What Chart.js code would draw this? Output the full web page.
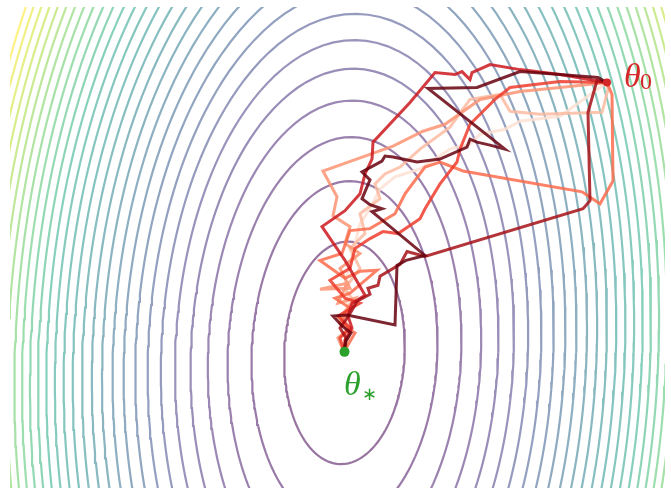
<!DOCTYPE html>
<html>
<head>
<meta charset="utf-8">
<script src="https://cdn.jsdelivr.net/npm/chart.js@4.4.0/dist/chart.umd.min.js"></script>
<style>
  html, body { margin: 0; padding: 0; background: #fff; }
  #wrap { width: 671px; height: 493px; }
</style>
</head>
<body>
<div id="wrap"><canvas id="chart"></canvas></div>
<script>
// loss surface (image units): loss = lossMin + lossScale * q(dx, dy)
const lossCenter = [344.5, 355];
const lossQuad = [2.759e-4, 8.62e-6, 7.999e-5];   // a, b, c of q
const lossMin = 0.275;
const lossScale = 0.725;
const levels = [1, 2, 3, 4, 5, 6, 7, 8, 9, 10, 11, 12, 13, 14, 15,
                16, 17, 18, 19, 20, 21, 22, 23, 24, 25, 26, 27, 28, 29];

const thetaStart = [607, 83];
const thetaOpt = [344.5, 354];

// SGD runs, lightest to darkest
const runColors = ["#fee0d2", "#fcbba1", "#fc9272", "#fb6a4a", "#ef3b2c", "#cb181d", "#a50f15", "#67000d"];

const run1 = [[607,83],[560,117],[520,122],[505,130],[480,135],[470,145],[450,150],[420,170],[395,178],[380,190],[370,210],[360,225],[355,245],[350,265],[345,285],[348,310],[344,354]];
const run2 = [[607,83],[608,90],[602,113],[540,115],[510,112],[500,95],[470,100],[450,128],[420,150],[400,168],[385,175],[375,185],[380,200],[360,215],[365,235],[350,250],[360,270],[345,290],[355,305],[338,320],[350,335],[344,354]];
const run3 = [[607,83],[560,88],[520,92],[480,100],[445,125],[423,132],[393,147],[323,172],[337,198],[333,217],[350,228],[345,245],[360,255],[340,270],[350,290],[320,291],[347,285],[338,305],[355,300],[340,320],[350,330],[338,340],[344,354]];
const run4 = [[607,83],[612,95],[613,182],[600,205],[585,195],[582,193],[463,172],[440,163],[425,168],[405,195],[395,215],[370,230],[350,232],[342,255],[320,262],[345,280],[360,273],[377,272],[350,295],[335,300],[350,310],[340,325],[355,335],[344,354]];
const run5 = [[607,83],[560,82],[510,88],[495,100],[470,125],[460,150],[457,163],[440,185],[425,210],[420,220],[398,235],[383,233],[370,240],[355,250],[350,270],[330,282],[345,300],[360,305],[338,318],[350,330],[340,340],[344,354]];
const run6 = [[607,83],[560,75],[520,70],[490,65],[472,73],[470,80],[462,72],[455,75],[435,73],[410,103],[373,143],[372,160],[365,175],[360,195],[345,212],[322,228],[345,262],[365,297],[352,305],[348,318],[352,330],[345,342],[344,354]];
const run7 = [[607,83],[597,81],[588,113],[590,202],[583,210],[425,258],[418,256],[407,253],[400,266],[380,278],[378,287],[368,290],[370,296],[357,303],[352,312],[347,320],[340,330],[346,340],[344,354]];
const run8 = [[607,83],[598,78],[560,75],[520,72],[477,88],[428,89],[505,150],[490,146],[477,143],[470,140],[467,148],[440,160],[417,163],[393,158],[385,157],[382,162],[362,173],[370,181],[362,200],[370,206],[382,210],[372,213],[425,257],[406,262],[397,267],[395,327],[347,317],[333,318],[342,328],[351,335],[346,343],[344,354]];
const runs = [run1, run2, run3, run4, run5, run6, run7, run8];

const viridis = [[68,1,84],[72,36,117],[65,68,135],[53,95,141],[42,120,142],[33,145,140],
                 [34,168,132],[68,191,112],[122,209,81],[189,223,38],[253,231,37]];

function viridisColor(t, alpha) {
  const s = Math.min(Math.max(t, 0), 1) * (viridis.length - 1);
  const i = Math.min(Math.floor(s), viridis.length - 2);
  const f = s - i;
  const c = viridis[i].map((v, k) => Math.round(v + (viridis[i + 1][k] - v) * f));
  return `rgba(${c[0]},${c[1]},${c[2]},${alpha})`;
}

// level set of the quadratic loss, traced around the centre
function contourPoints(level) {
  const q = (level - lossMin) / lossScale;
  const [a, b, c] = lossQuad;
  const pts = [];
  for (let i = 0; i <= 180; i++) {
    const ang = (i / 180) * 2 * Math.PI;
    const cs = Math.cos(ang), sn = Math.sin(ang);
    const r = Math.sqrt(q / (a * cs * cs + 2 * b * cs * sn + c * sn * sn));
    pts.push({ x: lossCenter[0] + r * cs, y: lossCenter[1] + r * sn });
  }
  return pts;
}

const datasets = [];

datasets.push({
  data: [{ x: thetaOpt[0], y: thetaOpt[1] }],
  pointRadius: 5, pointBackgroundColor: "#2ca02c", pointBorderWidth: 0,
  showLine: false, order: 0
});
datasets.push({
  data: [{ x: thetaStart[0], y: thetaStart[1] }],
  pointRadius: 4, pointBackgroundColor: "#d62728", pointBorderWidth: 0,
  showLine: false, order: 0
});

runs.forEach((run, i) => {
  datasets.push({
    data: run.map(p => ({ x: p[0], y: p[1] })),
    showLine: true, pointRadius: 0, borderWidth: 3,
    borderColor: runColors[i] + "d8", borderJoinStyle: "miter",
    order: 1 + runs.length - i
  });
});

levels.forEach((lv, k) => {
  datasets.push({
    data: contourPoints(lv),
    showLine: true, pointRadius: 0, borderWidth: 2.2,
    borderColor: viridisColor((lv - levels[0]) / (levels[levels.length - 1] - levels[0]), 0.55),
    order: 20
  });
});

const thetaLabels = {
  id: "thetaLabels",
  afterDatasetsDraw(chart) {
    const { ctx, scales: { x, y } } = chart;
    ctx.save();
    ctx.textBaseline = "alphabetic";
    ctx.fillStyle = "#d62728";
    ctx.font = "italic 34px 'Liberation Serif'";
    ctx.fillText("θ", x.getPixelForValue(624), y.getPixelForValue(87));
    ctx.font = "24px 'Liberation Serif'";
    ctx.fillText("0", x.getPixelForValue(640), y.getPixelForValue(90));
    ctx.fillStyle = "#2ca02c";
    ctx.font = "italic 34px 'Liberation Serif'";
    ctx.fillText("θ", x.getPixelForValue(344), y.getPixelForValue(397));
    ctx.font = "18px 'DejaVu Sans'";
    ctx.fillText("∗", x.getPixelForValue(362), y.getPixelForValue(402));
    ctx.restore();
  }
};

new Chart(document.getElementById("chart"), {
  type: "scatter",
  data: { datasets },
  options: {
    responsive: true,
    maintainAspectRatio: false,
    devicePixelRatio: 1,
    animation: false,
    layout: { padding: { left: 10, right: 6, top: 7, bottom: 2 } },
    plugins: { legend: { display: false }, tooltip: { enabled: false } },
    elements: { line: { tension: 0, fill: false } },
    scales: {
      x: { type: "linear", min: 10, max: 665, display: false },
      y: { type: "linear", min: 7, max: 491, reverse: true, display: false }
    }
  },
  plugins: [thetaLabels]
});
</script>
</body>
</html>
